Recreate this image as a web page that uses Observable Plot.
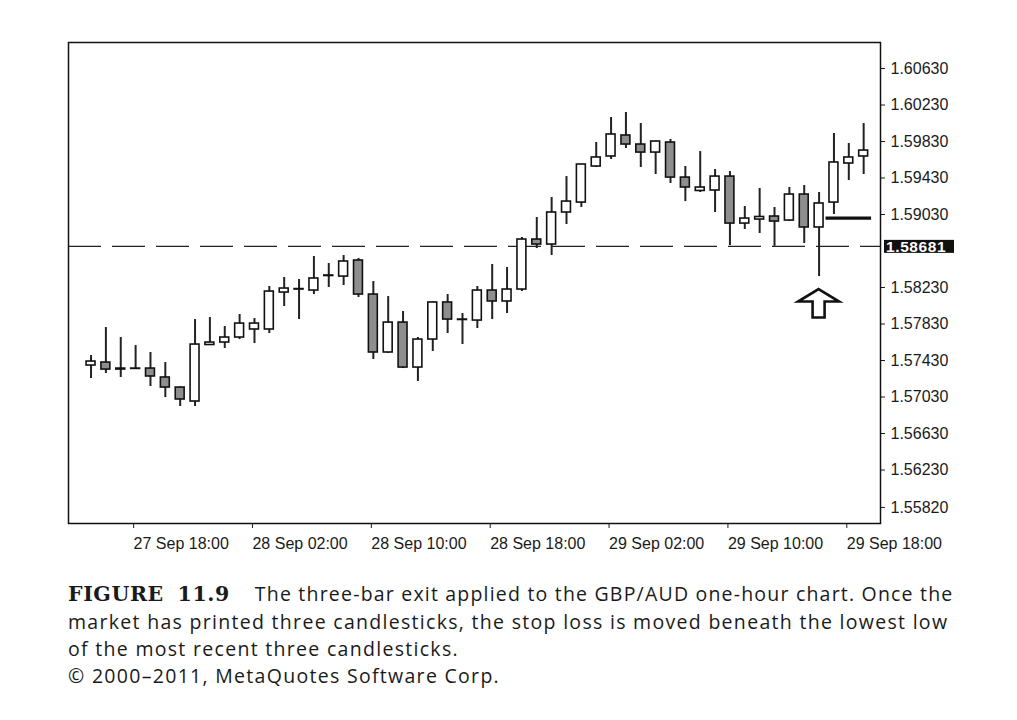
<!DOCTYPE html>
<html>
<head>
<meta charset="utf-8">
<script src="https://cdn.jsdelivr.net/npm/d3@7"></script>
<script src="https://cdn.jsdelivr.net/npm/@observablehq/plot@0.6"></script>
<style>
  html, body { margin: 0; padding: 0; background: #fff; }
  #chart { width: 1017px; }
  #caption {
    margin: 0; padding: 20px 0 0 68px;
    font-family: "Open Sans", sans-serif; font-size: 19.5px; line-height: 27px;
    letter-spacing: 1.3px;
    color: #1a1a1a; white-space: pre;
  }
  #caption .l1 { letter-spacing: 1.2px; }
  #caption .fig { font-family: "DejaVu Serif", serif; font-weight: bold; font-size: 20.5px; letter-spacing: 0.6px; word-spacing: 6px; margin-right: 25px; }
</style>
</head>
<body>
<div id="chart"></div>
<div id="caption"><span class="l1"><span class="fig">FIGURE 11.9</span>The three-bar exit applied to the GBP/AUD one-hour chart. Once the</span>
market has printed three candlesticks, the stop loss is moved beneath the lowest low
of the most recent three candlesticks.
© 2000–2011, MetaQuotes Software Corp.</div>
<script>
// ---- data (GBP/AUD, one-hour candles from 27 Sep 15:00) ----
const firstBar = "2011-09-27T15:00:00Z";
const open = [1.57375,1.57408,1.57342,1.57342,1.57342,1.57244,1.57134,1.56981,1.57600,1.57627,1.57682,1.57770,1.57770,1.58175,1.58208,1.58197,1.58356,1.58350,1.58526,1.58153,1.57518,1.57846,1.57353,1.57660,1.58066,1.57874,1.57868,1.58197,1.58077,1.58208,1.58756,1.58701,1.59052,1.59161,1.59556,1.59666,1.59896,1.59797,1.59709,1.59819,1.59435,1.59288,1.59293,1.59446,1.58931,1.58975,1.59008,1.58964,1.59249,1.58888,1.59161,1.59589,1.59666];
const high = [1.57485,1.57792,1.57682,1.57594,1.57518,1.57408,1.57140,1.57879,1.57901,1.57803,1.57934,1.57890,1.58241,1.58340,1.58318,1.58570,1.58493,1.58581,1.58548,1.58296,1.58131,1.57967,1.57682,1.58071,1.58153,1.57945,1.58241,1.58482,1.58449,1.58778,1.58997,1.59216,1.59446,1.59578,1.59819,1.60093,1.60148,1.60027,1.59835,1.59852,1.59556,1.59720,1.59523,1.59501,1.59118,1.59315,1.59107,1.59326,1.59348,1.59271,1.59918,1.59808,1.60027];
const low = [1.57233,1.57288,1.57244,1.57331,1.57145,1.57024,1.56926,1.56926,1.57594,1.57562,1.57660,1.57616,1.57726,1.58022,1.57879,1.58153,1.58230,1.58252,1.58120,1.57441,1.57507,1.57342,1.57200,1.57529,1.57726,1.57605,1.57781,1.57879,1.57945,1.58186,1.58657,1.58581,1.58920,1.59107,1.59545,1.59633,1.59753,1.59545,1.59468,1.59370,1.59172,1.59271,1.59052,1.58690,1.58866,1.58822,1.58681,1.58953,1.58712,1.58350,1.59030,1.59403,1.59468];
const close = [1.57419,1.57331,1.57331,1.57338,1.57255,1.57134,1.57003,1.57605,1.57627,1.57682,1.57835,1.57835,1.58186,1.58219,1.58213,1.58329,1.58362,1.58515,1.58153,1.57518,1.57846,1.57353,1.57660,1.58066,1.57879,1.57879,1.58197,1.58077,1.58208,1.58756,1.58701,1.59052,1.59172,1.59578,1.59655,1.59907,1.59797,1.59709,1.59830,1.59435,1.59326,1.59326,1.59446,1.58931,1.58986,1.59003,1.58953,1.59249,1.58888,1.59151,1.59600,1.59655,1.59731];

const yTicks = [1.60630,1.60230,1.59830,1.59430,1.59030,1.58230,1.57830,1.57430,1.57030,1.56630,1.56230,1.55820];
const xTicks = ["2011-09-27T18:00:00Z","2011-09-28T02:00:00Z","2011-09-28T10:00:00Z","2011-09-28T18:00:00Z","2011-09-29T02:00:00Z","2011-09-29T10:00:00Z","2011-09-29T18:00:00Z"];
const xDomain = ["2011-09-27T13:29:00Z","2011-09-29T20:08:00Z"];
const yDomain = [1.55644, 1.60915];

const currentLevel = 1.58681;                 // dashed horizontal level
const stopLevel = [{price: 1.58990, from: "2011-09-29T16:28:00Z", to: "2011-09-29T19:32:00Z"}];
const arrowAt = {time: "2011-09-29T16:00:00Z", price: 1.58208};

// ---- build ----
const HOUR = 3600e3;
const t0 = new Date(firstBar).getTime();
const candles = open.map((o, i) => ({
  t: new Date(t0 + i * HOUR), open: o, high: high[i], low: low[i], close: close[i]
}));
const halfBody = 18 * 60e3;

const plot = Plot.plot({
  width: 1017,
  height: 560,
  marginLeft: 68,
  marginRight: 137,
  marginTop: 42,
  marginBottom: 37,
  style: {fontFamily: "'Liberation Sans', Arial, sans-serif", fontSize: "16px", color: "#1a1a1a", background: "#fff"},
  x: {type: "utc", domain: xDomain.map(d => new Date(d))},
  y: {domain: yDomain},
  marks: [
    Plot.ruleY([currentLevel], {stroke: "#222", strokeWidth: 1.2, strokeDasharray: "33,11"}),
    Plot.ruleX(candles, {x: "t", y1: "low", y2: "high", stroke: "#222", strokeWidth: 2}),
    Plot.rect(candles, {
      x1: d => new Date(+d.t - halfBody), x2: d => new Date(+d.t + halfBody),
      y1: "open", y2: "close",
      fill: d => d.close >= d.open ? "#ffffff" : "#8e8e8e",
      stroke: "#111", strokeWidth: 1.6
    }),
    Plot.ruleY(stopLevel, {y: "price", x1: d => new Date(d.from), x2: d => new Date(d.to), stroke: "#111", strokeWidth: 3.2}),
    Plot.frame({stroke: "#111", strokeWidth: 1.5}),
    Plot.axisY(yTicks, {anchor: "right", tickSize: 4, tickPadding: 6, tickFormat: d3.format(".5f"), label: null, fontSize: 16}),
    Plot.axisX(xTicks.map(d => new Date(d)), {anchor: "bottom", tickSize: 5, tickPadding: 9, textAnchor: "start", dx: -2,
      tickFormat: d3.utcFormat("%d %b %H:%M"), label: null, fontSize: 16})
  ]
});
document.getElementById("chart").appendChild(plot);

// price label box and arrow, positioned with the plot's own scales
const sx = plot.scale("x"), sy = plot.scale("y");
const svg = d3.select(plot);
const ly = sy.apply(currentLevel);
const rightEdge = 1017 - 137;
const g = svg.append("g");
g.append("rect").attr("x", rightEdge + 4).attr("y", ly - 6).attr("width", 70).attr("height", 13).attr("fill", "#111");
g.append("text").attr("x", rightEdge + 6).attr("y", ly + 0.5).attr("dy", "0.36em")
  .attr("text-anchor", "start")
  .attr("fill", "#fff").attr("font-size", 15.5).attr("font-weight", "bold").attr("letter-spacing", "0.6")
  .text(d3.format(".5f")(currentLevel));

const ax = sx.apply(new Date(arrowAt.time)), ay = sy.apply(arrowAt.price);
const arrowShape = [[0,0],[20.5,12.5],[6,12.5],[6,28.5],[-6,28.5],[-6,12.5],[-20.5,12.5]];
g.append("path")
  .attr("d", "M" + arrowShape.map(([dx, dy]) => `${ax + dx},${ay + dy}`).join("L") + "Z")
  .attr("fill", "#fff").attr("stroke", "#111").attr("stroke-width", 2.6).attr("stroke-linejoin", "miter");
</script>
</body>
</html>
